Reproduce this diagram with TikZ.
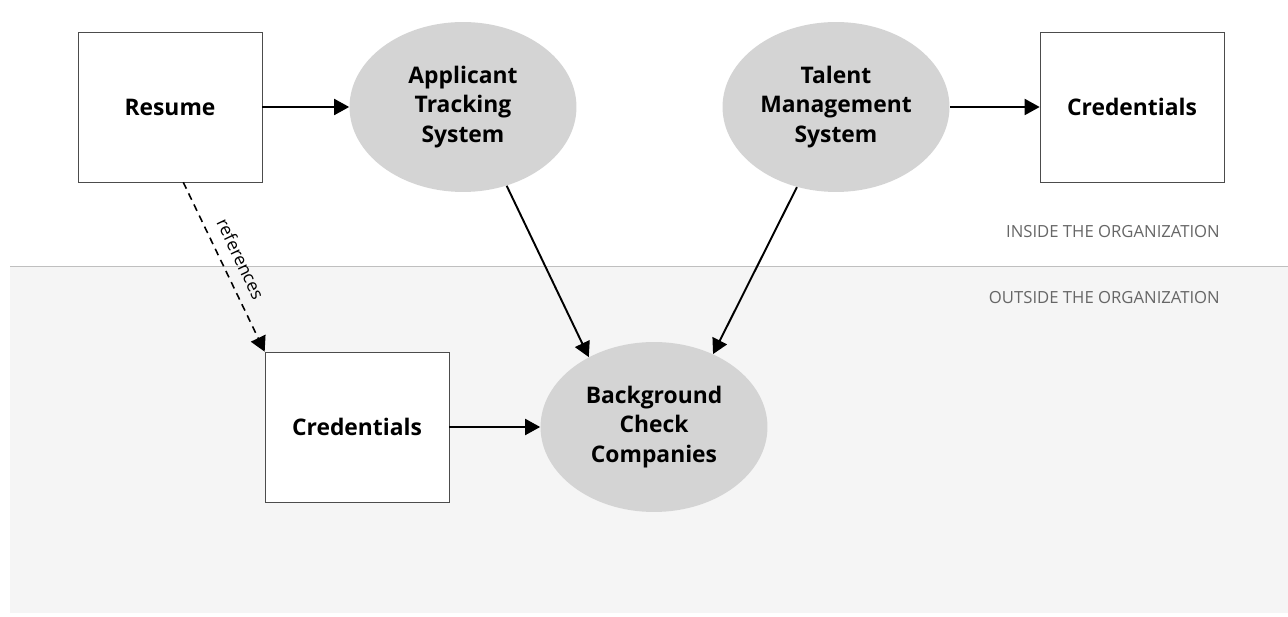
\documentclass[tikz,border=0pt]{standalone}
\usepackage{fontspec}
\setmainfont{Open Sans}
\usepackage{tikz}
\usetikzlibrary{shapes.geometric,arrows.meta}
\tikzset{>={Triangle[length=0.3cm,width=0.32cm]}}
\colorlet{syscol}{black!17}
\colorlet{outcol}{black!4}
\colorlet{linecol}{black!70}
\colorlet{zonecol}{black!60}
\tikzstyle{doc}=[draw=linecol,fill=white,minimum width=3.68cm,minimum height=3cm,
  font=\fontsize{13}{17}\selectfont\bfseries,align=center]
\tikzstyle{system}=[ellipse,fill=syscol,minimum width=4.54cm,minimum height=3.4cm,
  inner sep=0,font=\fontsize{13}{17}\selectfont\bfseries,align=center]
\tikzstyle{flow}=[->,line width=1.1pt]
\tikzstyle{zone}=[zonecol,font=\fontsize{9.5}{11}\selectfont,anchor=east]

\begin{document}
\begin{tikzpicture}[x=0.02cm,y=-0.02cm]
  \useasboundingbox (0,0) rectangle (1288,617);

  % OUTSIDE AREA
  \fill[outcol] (10,266) rectangle (1288,613);
  \draw[black!25] (10,266) -- (1288,266);
  \node[zone] (inside) at (1226,232) {INSIDE THE ORGANIZATION};
  \node[zone] (outside) at (1226,298) {OUTSIDE THE ORGANIZATION};

  % NODES
  \node[doc] (resume) at (170,107) {Resume};
  \node[system] (ats) at (463,107) {Applicant\\Tracking\\System};
  \node[system] (tms) at (836,107) {Talent\\Management\\System};
  \node[doc] (credin) at (1132,107) {Credentials};
  \node[doc] (credout) at (357,427) {Credentials};
  \node[system] (bcc) at (654,427) {Background\\Check\\Companies};

  % ARROWS
  \draw[flow] (resume) -- (ats);
  \draw[flow] (tms) -- (credin);
  \draw[flow] (credout) -- (bcc);
  \draw[flow] (ats.-61) -- (bcc.133);
  \draw[flow] (tms.-116) -- (bcc.51);
  \draw[flow,dash pattern=on 4pt off 3pt,line width=0.9pt] (resume.-80) -- (credout.north west)
    node[midway,sloped,above=3pt,font=\fontsize{10}{12}\selectfont] {references};

\end{tikzpicture}
\end{document}
